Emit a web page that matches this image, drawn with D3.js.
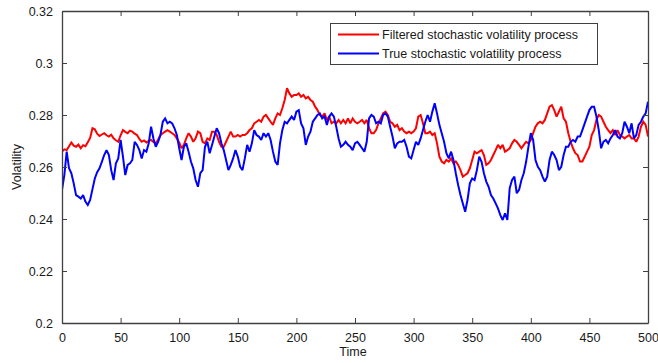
<!DOCTYPE html>
<html>
<head>
<meta charset="utf-8">
<script src="https://cdn.jsdelivr.net/npm/d3@7"></script>
<style>
  html, body { margin: 0; padding: 0; background: #fff; }
  svg { display: block; }
  text { font-family: "Liberation Sans", Arial, sans-serif; }
</style>
</head>
<body>
<svg id="chart" width="658" height="363"></svg>
<script>
// Time steps: one sample every 2 units from 0 to 500
const timeSteps = d3.range(0, 501, 2);

// Filtered stochastic volatility process
const filteredVol = [
  0.2659,0.2668,0.2665,0.2680,0.2694,0.2682,0.2678,0.2686,0.2672,0.2684,
  0.2680,0.2695,0.2712,0.2749,0.2745,0.2728,0.2719,0.2725,0.2730,0.2722,
  0.2717,0.2724,0.2710,0.2703,0.2697,0.2722,0.2742,0.2735,0.2730,0.2740,
  0.2736,0.2728,0.2723,0.2708,0.2697,0.2702,0.2694,0.2700,0.2704,0.2696,
  0.2691,0.2705,0.2723,0.2730,0.2736,0.2742,0.2736,0.2730,0.2723,0.2710,
  0.2694,0.2672,0.2685,0.2710,0.2730,0.2717,0.2697,0.2710,0.2736,0.2730,
  0.2697,0.2691,0.2710,0.2704,0.2736,0.2736,0.2723,0.2697,0.2678,0.2678,
  0.2697,0.2717,0.2736,0.2717,0.2717,0.2723,0.2717,0.2723,0.2723,0.2730,
  0.2742,0.2749,0.2768,0.2774,0.2781,0.2774,0.2794,0.2800,0.2787,0.2774,
  0.2762,0.2787,0.2806,0.2800,0.2826,0.2858,0.2903,0.2883,0.2870,0.2877,
  0.2877,0.2883,0.2870,0.2877,0.2864,0.2870,0.2858,0.2851,0.2832,0.2819,
  0.2800,0.2794,0.2806,0.2781,0.2794,0.2768,0.2774,0.2768,0.2781,0.2768,
  0.2781,0.2768,0.2787,0.2768,0.2787,0.2774,0.2768,0.2774,0.2781,0.2768,
  0.2781,0.2749,0.2730,0.2730,0.2742,0.2768,0.2787,0.2806,0.2813,0.2800,
  0.2774,0.2768,0.2755,0.2762,0.2742,0.2749,0.2736,0.2730,0.2736,0.2730,
  0.2736,0.2749,0.2794,0.2800,0.2768,0.2730,0.2730,0.2736,0.2723,0.2730,
  0.2691,0.2640,0.2621,0.2614,0.2627,0.2621,0.2633,0.2614,0.2621,0.2608,
  0.2588,0.2563,0.2569,0.2576,0.2595,0.2627,0.2659,0.2653,0.2659,0.2665,
  0.2646,0.2608,0.2614,0.2627,0.2646,0.2665,0.2685,0.2672,0.2685,0.2659,
  0.2665,0.2672,0.2691,0.2704,0.2697,0.2685,0.2672,0.2685,0.2697,0.2691,
  0.2704,0.2730,0.2755,0.2768,0.2774,0.2768,0.2781,0.2806,0.2832,0.2838,
  0.2819,0.2794,0.2813,0.2832,0.2787,0.2774,0.2730,0.2697,0.2672,0.2653,
  0.2646,0.2621,0.2621,0.2640,0.2659,0.2678,0.2723,0.2742,0.2781,0.2800,
  0.2794,0.2774,0.2755,0.2742,0.2730,0.2742,0.2723,0.2742,0.2723,0.2717,
  0.2710,0.2717,0.2723,0.2710,0.2710,0.2697,0.2717,0.2755,0.2774,0.2762,
  0.2717
];

// True stochastic volatility process
const trueVol = [
  0.2512,0.2569,0.2659,0.2595,0.2576,0.2537,0.2492,0.2486,0.2479,0.2492,
  0.2467,0.2454,0.2473,0.2515,0.2556,0.2580,0.2595,0.2620,0.2646,0.2665,
  0.2646,0.2588,0.2550,0.2614,0.2633,0.2704,0.2640,0.2569,0.2608,0.2614,
  0.2627,0.2697,0.2685,0.2665,0.2633,0.2665,0.2659,0.2691,0.2755,0.2710,
  0.2678,0.2697,0.2723,0.2774,0.2787,0.2768,0.2774,0.2768,0.2749,0.2723,
  0.2672,0.2627,0.2678,0.2691,0.2659,0.2621,0.2595,0.2550,0.2524,0.2576,
  0.2588,0.2678,0.2697,0.2653,0.2685,0.2717,0.2749,0.2730,0.2691,0.2665,
  0.2627,0.2588,0.2608,0.2633,0.2665,0.2640,0.2601,0.2588,0.2633,0.2685,
  0.2659,0.2691,0.2742,0.2723,0.2717,0.2704,0.2730,0.2717,0.2730,0.2704,
  0.2659,0.2621,0.2608,0.2691,0.2742,0.2774,0.2768,0.2781,0.2794,0.2781,
  0.2813,0.2819,0.2768,0.2749,0.2685,0.2717,0.2736,0.2774,0.2787,0.2800,
  0.2806,0.2787,0.2794,0.2762,0.2794,0.2806,0.2794,0.2755,0.2710,0.2678,
  0.2685,0.2697,0.2685,0.2678,0.2665,0.2691,0.2697,0.2685,0.2672,0.2659,
  0.2697,0.2787,0.2800,0.2794,0.2768,0.2774,0.2768,0.2800,0.2806,0.2794,
  0.2755,0.2717,0.2672,0.2691,0.2697,0.2697,0.2704,0.2678,0.2640,0.2633,
  0.2665,0.2697,0.2685,0.2710,0.2742,0.2774,0.2800,0.2774,0.2813,0.2845,
  0.2806,0.2762,0.2730,0.2697,0.2653,0.2633,0.2659,0.2627,0.2576,0.2531,
  0.2492,0.2460,0.2428,0.2473,0.2537,0.2556,0.2550,0.2588,0.2640,0.2620,
  0.2576,0.2544,0.2524,0.2492,0.2479,0.2460,0.2441,0.2415,0.2396,0.2422,
  0.2396,0.2519,0.2550,0.2563,0.2499,0.2512,0.2550,0.2576,0.2620,0.2678,
  0.2730,0.2704,0.2627,0.2601,0.2588,0.2563,0.2544,0.2563,0.2627,0.2659,
  0.2646,0.2627,0.2588,0.2601,0.2646,0.2678,0.2678,0.2697,0.2704,0.2697,
  0.2717,0.2717,0.2742,0.2768,0.2794,0.2819,0.2832,0.2832,0.2794,0.2742,
  0.2672,0.2697,0.2704,0.2691,0.2710,0.2723,0.2742,0.2717,0.2710,0.2730,
  0.2774,0.2755,0.2730,0.2768,0.2710,0.2723,0.2762,0.2774,0.2794,0.2806,
  0.2851
];

const yTickValues = [0.2, 0.22, 0.24, 0.26, 0.28, 0.3, 0.32];
const xTickValues = [0, 50, 100, 150, 200, 250, 300, 350, 400, 450, 500];
const seriesNames = ["Filtered stochastic volatility process", "True stochastic volatility process"];
const seriesColors = ["#ff0000", "#0000ff"];

const svg = d3.select("#chart");
const plot = { left: 62, right: 648, top: 11, bottom: 323 };

const x = d3.scaleLinear().domain([0, 500]).range([plot.left, plot.right]);
const y = d3.scaleLinear().domain([0.2, 0.32]).range([plot.bottom, plot.top]);

const axisColor = "#404040";
const textColor = "#1a1a1a";
const tickLen = 5;

// Lines
const line = d3.line()
  .x((d, i) => x(timeSteps[i]))
  .y(d => y(d));

svg.append("clipPath").attr("id", "plotClip")
  .append("rect")
  .attr("x", plot.left).attr("y", plot.top)
  .attr("width", plot.right - plot.left).attr("height", plot.bottom - plot.top);

const lines = svg.append("g").attr("clip-path", "url(#plotClip)");
[filteredVol, trueVol].forEach((series, k) => {
  lines.append("path")
    .datum(series)
    .attr("d", line)
    .attr("fill", "none")
    .attr("stroke", seriesColors[k])
    .attr("stroke-width", 2)
    .attr("stroke-linejoin", "miter")
    .attr("stroke-miterlimit", 2);
});

// Axes with inward ticks on all four sides
function styleAxis(g) {
  g.select(".domain").attr("stroke", axisColor).attr("stroke-width", 1.3);
  g.selectAll(".tick line").attr("stroke", axisColor).attr("stroke-width", 1);
  g.selectAll(".tick text")
    .attr("fill", textColor)
    .style("font-size", "12.5px")
    .style("font-family", "'Liberation Sans', Arial, sans-serif");
}

const fmtY = d => String(+d.toFixed(2));

svg.append("g")
  .attr("transform", `translate(0,${plot.bottom})`)
  .call(d3.axisBottom(x).tickValues(xTickValues).tickSizeInner(-tickLen).tickSizeOuter(0).tickPadding(10).tickFormat(d3.format("d")))
  .call(styleAxis);

svg.append("g")
  .attr("transform", `translate(0,${plot.top})`)
  .call(d3.axisTop(x).tickValues(xTickValues).tickSizeInner(-tickLen).tickSizeOuter(0).tickFormat(""))
  .call(styleAxis);

svg.append("g")
  .attr("transform", `translate(${plot.left},0)`)
  .call(d3.axisLeft(y).tickValues(yTickValues).tickSizeInner(-tickLen).tickSizeOuter(0).tickPadding(9).tickFormat(fmtY))
  .call(styleAxis);

svg.append("g")
  .attr("transform", `translate(${plot.right},0)`)
  .call(d3.axisRight(y).tickValues(yTickValues).tickSizeInner(-tickLen).tickSizeOuter(0).tickFormat(""))
  .call(styleAxis);

// Axis titles
svg.append("text")
  .attr("x", (plot.left + plot.right) / 2 - 2)
  .attr("y", 356)
  .attr("text-anchor", "middle")
  .attr("fill", textColor)
  .style("font-size", "12.5px")
  .text("Time");

svg.append("text")
  .attr("transform", `translate(21,${(plot.top + plot.bottom) / 2}) rotate(-90)`)
  .attr("text-anchor", "middle")
  .attr("fill", textColor)
  .style("font-size", "12.5px")
  .text("Volatility");

// Legend
const legend = svg.append("g").attr("transform", "translate(330,23)");
legend.append("rect")
  .attr("x", 0.5).attr("y", 0.5)
  .attr("width", 267).attr("height", 41)
  .attr("fill", "#fff")
  .attr("stroke", axisColor)
  .attr("stroke-width", 1);

seriesNames.forEach((name, k) => {
  const ly = 11.5 + k * 19;
  legend.append("line")
    .attr("x1", 8).attr("x2", 49)
    .attr("y1", ly).attr("y2", ly)
    .attr("stroke", seriesColors[k])
    .attr("stroke-width", 2);
  legend.append("text")
    .attr("x", 52).attr("y", ly)
    .attr("dy", "0.35em")
    .attr("fill", textColor)
    .style("font-size", "12.5px")
    .text(name);
});
</script>
</body>
</html>
